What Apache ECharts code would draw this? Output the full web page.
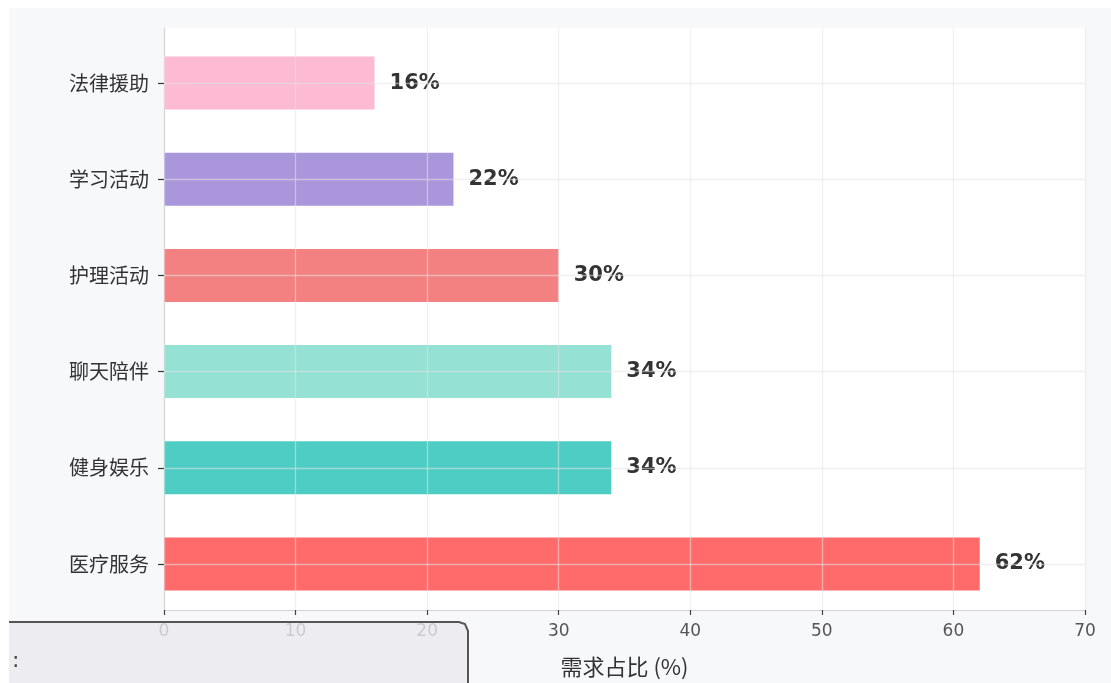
<!DOCTYPE html>
<html>
<head>
<meta charset="utf-8">
<script src="https://cdn.jsdelivr.net/npm/echarts@6/dist/echarts.min.js"></script>
<style>
html,body{margin:0;padding:0;background:#ffffff;}
#main{width:1111px;height:683px;}
</style>
</head>
<body>
<div id="main"></div>
<script>
const categories = ['医疗服务', '健身娱乐', '聊天陪伴', '护理活动', '学习活动', '法律援助'];
const values = [62, 34, 34, 30, 22, 16];
const barColors = ['#FF6B6B', '#4ECDC4', '#95E1D3', '#F38181', '#AA96DA', '#FCBAD3'];
const xAxisName = '需求占比 (%)';
const xTicks = { min: 0, max: 70, interval: 10 };

const chart = echarts.init(document.getElementById('main'));
const gridLineColor = 'rgba(228,228,230,0.55)';

const option = {
  animation: false,
  backgroundColor: 'transparent',
  textStyle: { fontFamily: '"Noto Sans CJK SC", "DejaVu Sans", sans-serif' },
  graphic: [
    { type: 'rect', z: -10, silent: true,
      shape: { x: 9, y: 8, width: 1102, height: 675 },
      style: { fill: '#f7f8fa' } },
    { type: 'rect', z: 100, silent: true,
      shape: { x: 9, y: 622, width: 459, height: 80, r: [0, 9, 0, 0] },
      style: { fill: 'rgba(234,234,239,0.8)' } },
    { type: 'polyline', z: 101, silent: true,
      shape: { points: [[9, 622], [459, 622], [465, 624], [468, 631], [468, 690]] },
      style: { fill: 'none', stroke: '#555555', lineWidth: 2 } },
    { type: 'text', z: 102, silent: true, left: 12, top: 650,
      style: { text: ':', fontSize: 22, fill: '#444444', fontFamily: '"DejaVu Sans", sans-serif' } }
  ],
  grid: [
    { left: 164, right: 26, top: 28, bottom: 64, show: true, backgroundColor: '#ffffff', borderWidth: 0 },
    { left: 164, right: 26, top: 35, bottom: 71, show: false }
  ],
  xAxis: [
    {
      gridIndex: 0, type: 'value', min: xTicks.min, max: xTicks.max, interval: xTicks.interval, z: 5,
      name: xAxisName, nameLocation: 'middle', nameGap: 46,
      nameTextStyle: { fontSize: 22, color: '#333333', fontFamily: '"Noto Sans CJK SC", sans-serif' },
      axisLine: { show: true, lineStyle: { color: '#d4d4d8', width: 1.2 } },
      axisTick: { show: true, length: 5, lineStyle: { color: '#444444', width: 1.2 } },
      axisLabel: { fontSize: 17, color: '#555555', margin: 13, fontFamily: '"DejaVu Sans", sans-serif' },
      splitLine: { show: true, lineStyle: { color: gridLineColor, width: 1.3 } }
    },
    {
      gridIndex: 1, type: 'value', min: xTicks.min, max: xTicks.max, interval: xTicks.interval,
      show: false, splitLine: { show: false }
    }
  ],
  yAxis: [
    {
      gridIndex: 0, type: 'value', min: 0, max: 1,
      axisLine: { show: true, lineStyle: { color: '#c8c8cc', width: 1.2 } },
      axisTick: { show: false }, axisLabel: { show: false }, splitLine: { show: false }
    },
    {
      gridIndex: 1, type: 'category', data: categories,
      axisLine: { show: false },
      axisTick: { show: true, alignWithLabel: true, length: 6, lineStyle: { color: '#333333', width: 1.2 } },
      axisLabel: { fontSize: 20, color: '#333333', margin: 15, fontFamily: '"Noto Sans CJK SC", sans-serif' },
      splitLine: { show: false }
    }
  ],
  series: [
    {
      type: 'bar', xAxisIndex: 1, yAxisIndex: 1,
      data: values.map((v, i) => ({ value: v, itemStyle: { color: barColors[i] } })),
      barWidth: 53,
      label: {
        show: true, position: 'right', distance: 15, formatter: '{c}%',
        fontSize: 21, fontWeight: 'bold', color: '#333333', fontFamily: '"DejaVu Sans", sans-serif'
      },
      markLine: {
        silent: true, symbol: 'none', z: 10, label: { show: false },
        lineStyle: { type: 'solid', color: gridLineColor, width: 1.3 },
        data: categories.map(c => ({ yAxis: c }))
      }
    }
  ]
};
chart.setOption(option);
</script>
</body>
</html>
